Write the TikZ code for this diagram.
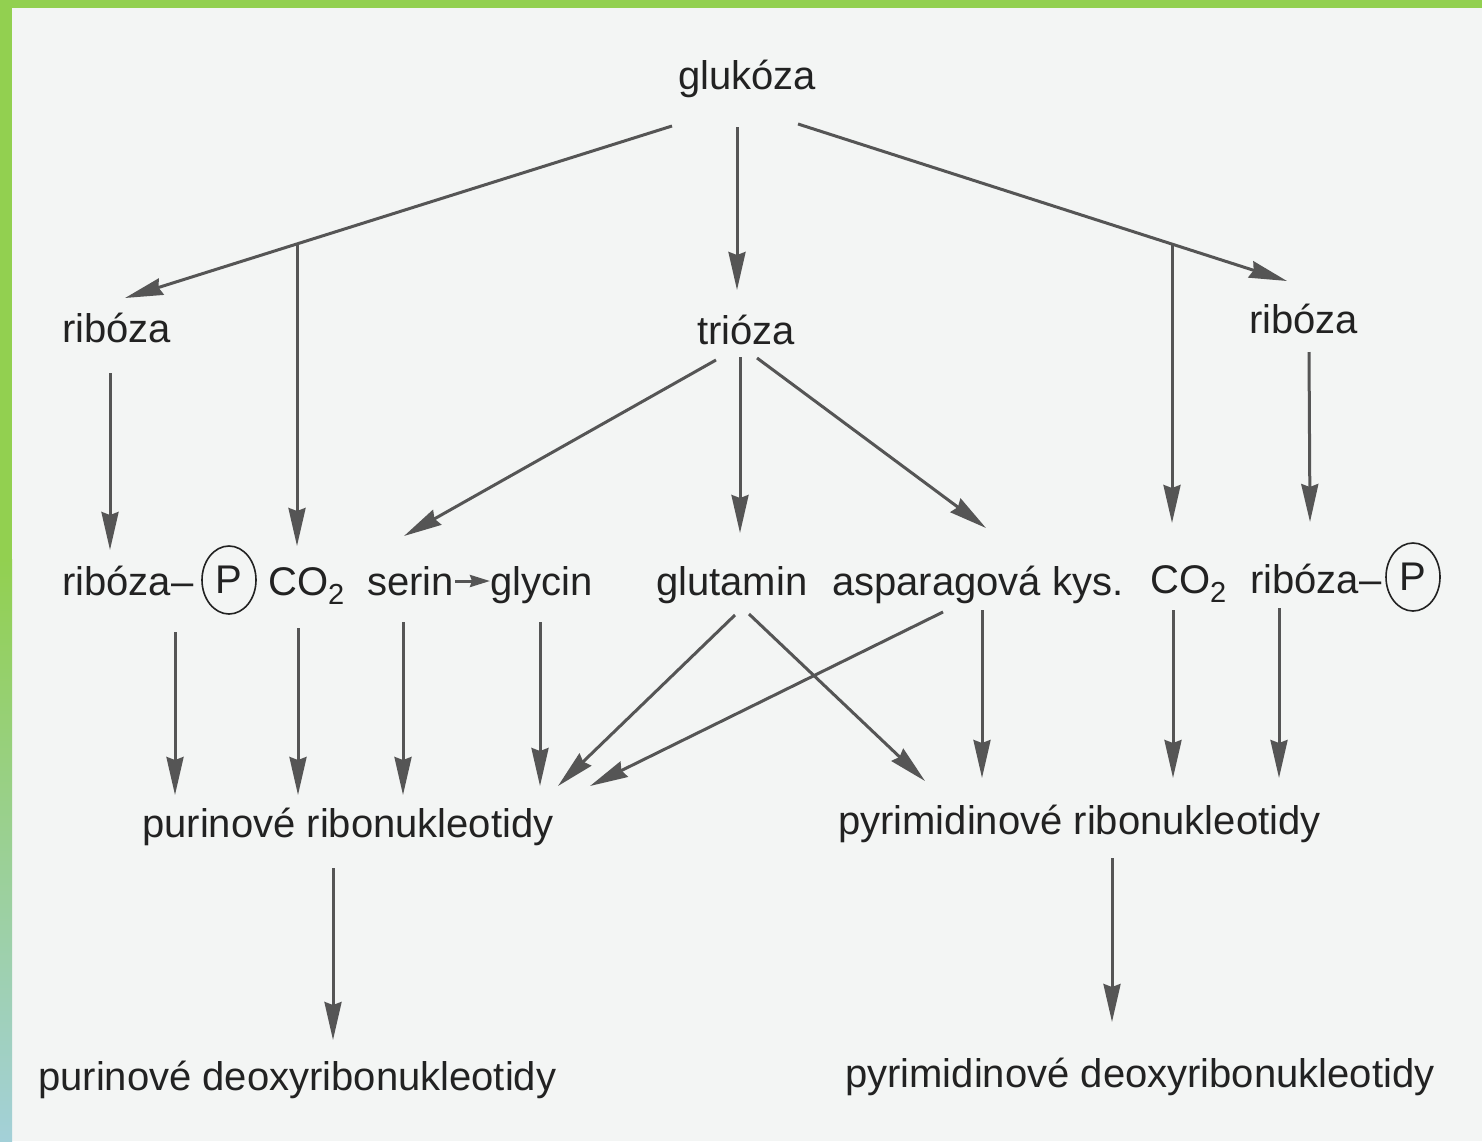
\documentclass[tikz,border=0pt]{standalone}
\usepackage{fontspec}
\setmainfont{Liberation Sans}
\usetikzlibrary{arrows.meta,shapes.geometric}
\definecolor{bg}{HTML}{F3F5F4}
\definecolor{bandgreen}{HTML}{92D050}
\definecolor{bandblue}{HTML}{A3D0D8}
\definecolor{ink}{HTML}{222222}
\definecolor{arrowgray}{HTML}{555555}
\newcommand{\subtwo}{\raisebox{-9pt}{\fontsize{29}{29}\selectfont 2}}
\begin{document}
\begin{tikzpicture}[x=1pt,y=-1pt,
  lbl/.style={inner sep=0pt, anchor=base west, text=ink, font=\fontsize{40}{48}\selectfont},
  pcirc/.style={ellipse, draw=ink, line width=1.6pt, minimum width=54pt, minimum height=68pt, inner sep=0pt, text=ink, font=\fontsize{40}{48}\selectfont},
  arr/.style={draw=arrowgray, line width=3pt, -{Stealth[length=38pt,width=17pt,inset=3pt]}},
  sarr/.style={draw=arrowgray, line width=3pt, -{Stealth[length=20pt,width=12pt,inset=2pt]}},
  ln/.style={draw=arrowgray, line width=3pt}]
\useasboundingbox (0,0) rectangle (1482,1141);
\fill[bg] (0,0) rectangle (1482,1141);
\fill[bandgreen] (0,0) rectangle (1482,8);
\fill[bandgreen] (0,0) rectangle (12,560);
\shade[top color=bandgreen, bottom color=bandblue] (0,559) rectangle (12,1141);

% nodes
\node[lbl] (glu) at (678,89) {glukóza};
\node[lbl] (ribL) at (62,342) {ribóza};
\node[lbl] (trio) at (697,344) {trióza};
\node[lbl] (ribR) at (1249,333) {ribóza};

\node[lbl] (ribPL) at (62,595) {ribóza–};
\node[pcirc] (PL) at (229,580) {P};
\node[lbl] (co2L) at (268,595) {CO\subtwo};
\node[lbl] (serin) at (367,595) {serin};
\node[lbl] (glycin) at (490,595) {glycin};
\node[lbl] (glut) at (656,595) {glutamin};
\node[lbl] (asp) at (832,595) {asparagová kys.};
\node[lbl] (co2R) at (1150,593) {CO\subtwo};
\node[lbl] (ribPR) at (1250,593) {ribóza–};
\node[pcirc] (PR) at (1413,577) {P};

\node[lbl] (purR) at (142,837) {purinové ribonukleotidy};
\node[lbl] (pyrR) at (838,834) {pyrimidinové ribonukleotidy};
\node[lbl] (purD) at (38,1090) {purinové deoxyribonukleotidy};
\node[lbl] (pyrD) at (845,1087) {pyrimidinové deoxyribonukleotidy};

% connector end points
\coordinate (gluL) at (672,126);
\coordinate (ribLtop) at (125,298);
\coordinate (jL) at (297,243);
\coordinate (co2Ltop) at (297,546);
\coordinate (gluM) at (737,127);
\coordinate (trioTop) at (737,290);
\coordinate (gluR) at (798,124);
\coordinate (ribRtop) at (1287,281);
\coordinate (jR) at (1172,243);
\coordinate (co2Rtop) at (1172,523);
\coordinate (ribLbot) at (110,373);
\coordinate (ribPLtop) at (110,550);
\coordinate (ribRbot) at (1309,352);
\coordinate (ribPRtop) at (1310,522);
\coordinate (trioA) at (716,360);
\coordinate (serinTop) at (404,536);
\coordinate (trioB) at (740,357);
\coordinate (glutTop) at (740,533);
\coordinate (trioC) at (757,358);
\coordinate (aspTop) at (986,528);
\coordinate (serinR) at (455,581);
\coordinate (glycinL) at (490,581);

\coordinate (ribPLbot) at (175,632);
\coordinate (purR1) at (175,795);
\coordinate (co2Lbot) at (298,628);
\coordinate (purR2) at (298,795);
\coordinate (serinBot) at (403,622);
\coordinate (purR3) at (403,795);
\coordinate (glycinBot) at (540,622);
\coordinate (purR4) at (540,786);
\coordinate (glutBotL) at (735,615);
\coordinate (purR5) at (558,786);
\coordinate (glutBotR) at (749,614);
\coordinate (pyrR1) at (925,781);
\coordinate (aspBotL) at (943,612);
\coordinate (purR6) at (590,786);
\coordinate (aspBot) at (982,610);
\coordinate (pyrR2) at (982,778);
\coordinate (co2Rbot) at (1173,610);
\coordinate (pyrR3) at (1173,778);
\coordinate (ribPRbot) at (1279,608);
\coordinate (pyrR4) at (1279,778);
\coordinate (purRbot) at (333,868);
\coordinate (purDtop) at (333,1040);
\coordinate (pyrRbot) at (1112,858);
\coordinate (pyrDtop) at (1112,1022);

% connectors
\draw[arr] (gluL) -- (ribLtop);
\draw[arr] (jL) -- (co2Ltop);
\draw[arr] (gluM) -- (trioTop);
\draw[arr] (gluR) -- (ribRtop);
\draw[arr] (jR) -- (co2Rtop);
\draw[arr] (ribLbot) -- (ribPLtop);
\draw[arr] (ribRbot) -- (ribPRtop);
\draw[arr] (trioA) -- (serinTop);
\draw[arr] (trioB) -- (glutTop);
\draw[arr] (trioC) -- (aspTop);
\draw[sarr] (serinR) -- (glycinL);

\draw[arr] (ribPLbot) -- (purR1);
\draw[arr] (co2Lbot) -- (purR2);
\draw[arr] (serinBot) -- (purR3);
\draw[arr] (glycinBot) -- (purR4);
\draw[arr] (glutBotL) -- (purR5);
\draw[arr] (glutBotR) -- (pyrR1);
\draw[arr] (aspBotL) -- (purR6);
\draw[arr] (aspBot) -- (pyrR2);
\draw[arr] (co2Rbot) -- (pyrR3);
\draw[arr] (ribPRbot) -- (pyrR4);
\draw[arr] (purRbot) -- (purDtop);
\draw[arr] (pyrRbot) -- (pyrDtop);
\end{tikzpicture}
\end{document}
